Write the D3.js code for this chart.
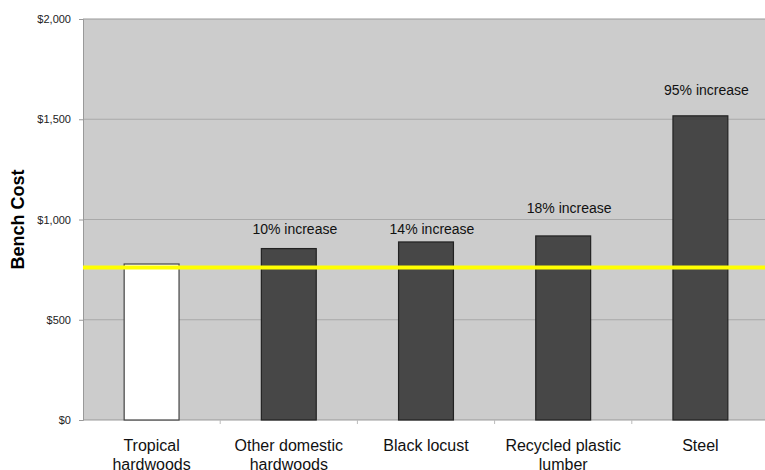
<!DOCTYPE html>
<html>
<head>
<meta charset="utf-8">
<script src="https://cdn.jsdelivr.net/npm/d3@7"></script>
<style>
  html, body { margin: 0; padding: 0; background: #fff; }
  svg { display: block; font-family: "Liberation Sans", Arial, sans-serif; }
</style>
</head>
<body>
<svg id="chart" width="765" height="470"></svg>
<script>
// Bench cost by material
const categories = [["Tropical", "hardwoods"], ["Other domestic", "hardwoods"], ["Black locust"], ["Recycled plastic", "lumber"], ["Steel"]];
const costs = [778, 855, 888, 918, 1517];
const increaseLabels = ["", "10% increase", "14% increase", "18% increase", "95% increase"];
const baselineCost = 760;
const yTicks = [0, 500, 1000, 1500, 2000];

const svg = d3.select("#chart");
const margin = { left: 83, top: 19, right: -4, bottom: 50 };
const W = 765, H = 470;
const plotW = W - margin.left - margin.right;
const plotH = H - margin.top - margin.bottom;

const x = d3.scaleBand().domain(d3.range(categories.length)).range([margin.left, margin.left + plotW]).paddingInner(0.6).paddingOuter(0.3);
const y = d3.scaleLinear().domain([0, 2000]).range([margin.top + plotH, margin.top]);

// plot background
svg.append("rect")
  .attr("x", margin.left).attr("y", margin.top)
  .attr("width", plotW).attr("height", plotH)
  .attr("fill", "#cccccc");

// horizontal gridlines
svg.append("g").selectAll("line").data(yTicks.filter(d => d > 0)).join("line")
  .attr("x1", margin.left).attr("x2", margin.left + plotW)
  .attr("y1", d => y(d)).attr("y2", d => y(d))
  .attr("stroke", d => d === 2000 ? "#999" : "#a9a9a9").attr("stroke-width", 1);

// y axis
const yAxis = d3.axisLeft(y).tickValues(yTicks).tickSize(4).tickPadding(8)
  .tickFormat(d => "$" + d3.format(",")(d));
const gy = svg.append("g").attr("transform", `translate(${margin.left},0)`).call(yAxis);
gy.select(".domain").attr("stroke", "#999");
gy.selectAll(".tick line").attr("stroke", "#999");
gy.selectAll(".tick text").attr("font-size", 11).attr("fill", "#222").attr("font-family", "Liberation Sans, Arial, sans-serif");

// x axis baseline and category separators
const xBase = y(0);
svg.append("line").attr("x1", margin.left).attr("x2", margin.left + plotW)
  .attr("y1", xBase).attr("y2", xBase).attr("stroke", "#999");
svg.append("g").selectAll("line").data(d3.range(1, categories.length)).join("line")
  .attr("x1", i => margin.left + i * (plotW / categories.length))
  .attr("x2", i => margin.left + i * (plotW / categories.length))
  .attr("y1", xBase).attr("y2", xBase + 4).attr("stroke", "#bbb");

// bars
svg.append("g").selectAll("rect").data(costs).join("rect")
  .attr("x", (d, i) => x(i)).attr("width", x.bandwidth())
  .attr("y", d => y(d)).attr("height", d => y(0) - y(d))
  .attr("fill", (d, i) => i === 0 ? "#ffffff" : "#474747")
  .attr("stroke", (d, i) => i === 0 ? "#444" : "#222")
  .attr("stroke-width", 1.2);

// baseline cost reference line
svg.append("line")
  .attr("x1", margin.left).attr("x2", W)
  .attr("y1", y(baselineCost)).attr("y2", y(baselineCost))
  .attr("stroke", "#ffff00").attr("stroke-width", 4);

// increase annotations (free text boxes, anchored in dollar units above each bar)
const labelAt = [0, 945, 945, 1050, 1640];
svg.append("g").selectAll("text").data(increaseLabels).join("text")
  .filter(d => d !== "")
  .attr("x", (d, i) => x(i + 1) + x.bandwidth() / 2 + 6)
  .attr("y", (d, i) => y(labelAt[i + 1]))
  .attr("text-anchor", "middle").attr("dominant-baseline", "middle")
  .attr("font-size", 14).attr("fill", "#111")
  .text(d => d);

// category labels
const catG = svg.append("g").selectAll("text").data(categories).join("text")
  .attr("text-anchor", "middle").attr("font-size", 16).attr("fill", "#111")
  .attr("x", (d, i) => x(i) + x.bandwidth() / 2)
  .attr("y", 451);
catG.selectAll("tspan").data(d => d).join("tspan")
  .attr("x", function() { return d3.select(this.parentNode).attr("x"); })
  .attr("dy", (d, j) => j === 0 ? 0 : 19)
  .text(d => d);

// y axis title
svg.append("text")
  .attr("transform", `translate(24,${margin.top + plotH / 2}) rotate(-90)`)
  .attr("text-anchor", "middle").attr("font-size", 18).attr("font-weight", "bold")
  .attr("fill", "#000")
  .text("Bench Cost");
</script>
</body>
</html>
